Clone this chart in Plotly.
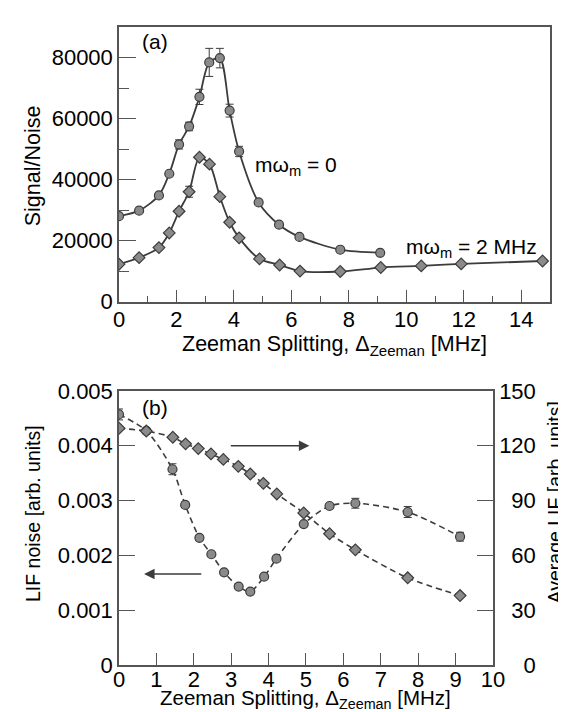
import plotly.graph_objects as go

# ---------------- data: panel (a) ----------------
a_x_m0 = [0.0, 0.70, 1.39, 1.75, 2.09, 2.44, 2.80, 3.14, 3.51, 3.85, 4.18, 4.86, 5.57, 6.28, 7.70, 9.09]
a_y_m0 = [28000, 29800, 34800, 41900, 51500, 57400, 67100, 78400, 79800, 62600, 49200, 32500, 25200, 21200, 17000, 16000]
a_err_m0 = [0, 0, 0, 500, 1500, 1400, 2500, 4600, 3200, 2100, 1700, 0, 0, 0, 0, 0]

a_x_m2 = [0.0, 0.70, 1.39, 1.75, 2.09, 2.44, 2.80, 3.15, 3.51, 3.85, 4.18, 4.89, 5.59, 6.30, 7.70, 9.11, 10.52, 11.91, 14.74]
a_y_m2 = [12260, 14400, 17700, 22500, 29600, 36000, 47300, 45050, 34400, 26000, 20900, 14000, 12000, 10000, 9870, 11160, 11700, 12350, 13300]
a_err_m2 = [0, 0, 0, 0, 800, 1800, 600, 0, 0, 0, 0, 0, 0, 0, 0, 0, 0, 0, 0]

# ---------------- data: panel (b) ----------------
b_x_noise = [0.0, 0.73, 1.43, 1.77, 2.15, 2.47, 2.81, 3.20, 3.51, 3.88, 4.21, 4.94, 5.63, 6.32, 7.72, 9.12]
b_y_noise = [0.00457, 0.00427, 0.00357, 0.00292, 0.00232, 0.00202, 0.00169, 0.00143, 0.00134,
             0.00161, 0.00194, 0.00257, 0.00290, 0.00295, 0.00279, 0.00234]
b_err_noise = [0.0001, 0.00005, 0.0001, 0.00005, 0.00004, 0.00004, 0.00003, 0.00003, 0.00004,
               0.00004, 0.00004, 0.00004, 0.00004, 0.00009, 0.0001, 0.00008]

b_x_lif = [0.0, 0.73, 1.44, 1.78, 2.12, 2.46, 2.79, 3.19, 3.51, 3.86, 4.22, 4.94, 5.63, 6.32, 7.72, 9.12]
b_y_lif = [129.5, 128.0, 124.6, 121.0, 118.4, 115.5, 112.5, 108.7, 104.5, 99.4, 93.6, 83.2, 71.8, 63.0, 47.7, 38.0]

# right-axis tick labels (right-aligned with figure spaces, as in the original)
lif_tickvals = [0, 30, 60, 90, 120, 150]
lif_ticktext = ["\u2007\u20070", "\u200730", "\u200760", "\u200790", "120", "150"]

x_title = "Zeeman Splitting, Δ<sub>Zeeman</sub> [MHz]"
y_title_a = "Signal/Noise"
y_title_b_left = "LIF noise [arb. units]"
y_title_b_right = "Average LIF [arb. units]"

FONT = "Liberation Sans, Arial, Helvetica, sans-serif"
LINE = "#3c3c3c"
FILL = "#8a8a8a"
AX = "#555555"

fig = go.Figure()

marker_c = dict(symbol="circle", size=9, color=FILL, line=dict(color=LINE, width=1.2))
marker_d = dict(symbol="diamond", size=9, color=FILL, line=dict(color=LINE, width=1.2))
err = lambda arr: dict(type="data", array=arr, visible=True, color=LINE, thickness=1, width=4)

fig.add_trace(go.Scatter(x=a_x_m0, y=a_y_m0, mode="lines+markers", error_y=err(a_err_m0),
                         line=dict(color=LINE, width=1.8, shape="spline", smoothing=0.8),
                         marker=marker_c, xaxis="x", yaxis="y", showlegend=False))
fig.add_trace(go.Scatter(x=a_x_m2, y=a_y_m2, mode="lines+markers", error_y=err(a_err_m2),
                         line=dict(color=LINE, width=1.8, shape="spline", smoothing=0.8),
                         marker=marker_d, xaxis="x", yaxis="y", showlegend=False))

fig.add_trace(go.Scatter(x=b_x_noise, y=b_y_noise, mode="lines+markers", error_y=err(b_err_noise),
                         line=dict(color=LINE, width=1.6, dash="6px,4px", shape="spline", smoothing=0.8),
                         marker=marker_c, xaxis="x2", yaxis="y2", showlegend=False))
fig.add_trace(go.Scatter(x=b_x_lif, y=b_y_lif, mode="lines+markers",
                         line=dict(color=LINE, width=1.6, dash="6px,4px", shape="spline", smoothing=0.8),
                         marker=marker_d, xaxis="x2", yaxis="y3", showlegend=False))

tickfont = dict(family=FONT, size=22, color="black")

common = dict(showgrid=False, zeroline=False, showline=True, linecolor=AX, linewidth=1.5,
              ticks="inside", tickcolor=AX, tickwidth=1, tickfont=tickfont, mirror=True)

fig.update_layout(
    width=566, height=712,
    margin=dict(l=111, r=24, t=7, b=54.5),
    paper_bgcolor="white", plot_bgcolor="white",
    font=dict(family=FONT, color="black"),
    xaxis=dict(domain=[0, 1], anchor="y", range=[0, 15], dtick=2, ticklen=12, ticklabelstandoff=-3,
               minor=dict(dtick=1, ticklen=6, ticks="inside", tickcolor=AX), **common),
    yaxis=dict(domain=[0.5696, 1], anchor="x", range=[0, 90000], dtick=20000, ticklen=17,
               tickformat="d",
               minor=dict(dtick=10000, ticklen=10, ticks="inside", tickcolor=AX), **common),
    xaxis2=dict(domain=[0, 0.8677], anchor="y2", range=[0, 10], dtick=1, ticklen=12,
                ticklabelstandoff=-6, **common),
    yaxis2=dict(domain=[0, 0.4297], anchor="x2", range=[0, 0.005], dtick=0.001, ticklen=16, **common),
    yaxis3=dict(overlaying="y2", anchor="x2", side="right", range=[0, 150], ticklen=16,
                tickmode="array", tickvals=lif_tickvals, ticktext=lif_ticktext,
                showgrid=False, zeroline=False, showline=True, linecolor=AX, linewidth=1.5,
                ticks="inside", tickcolor=AX, tickwidth=1, tickfont=tickfont),
)

# axis titles (placed as paper annotations for precise positioning)
fig.add_annotation(x=0.5, y=0.525, xref="paper", yref="paper", text=x_title, showarrow=False,
                   xanchor="center", yanchor="top", font=dict(family=FONT, size=21.5, color="black"))
fig.add_annotation(x=0.4327, y=-0.0775, xref="paper", yref="paper", text=x_title, showarrow=False,
                   xanchor="center", yanchor="bottom", font=dict(family=FONT, size=20.5, color="black"))
fig.add_annotation(x=-0.1995, y=0.7817, xref="paper", yref="paper", text=y_title_a, showarrow=False,
                   textangle=-90, xanchor="center", yanchor="middle",
                   font=dict(family=FONT, size=21.5, color="black"))
fig.add_annotation(x=-0.1995, y=0.2367, xref="paper", yref="paper", text=y_title_b_left, showarrow=False,
                   textangle=-90, xanchor="center", yanchor="middle",
                   font=dict(family=FONT, size=19.5, color="black"))
fig.add_annotation(x=1.011, y=0.2544, xref="paper", yref="paper", text=y_title_b_right, showarrow=False,
                   textangle=-90, xanchor="center", yanchor="middle",
                   font=dict(family=FONT, size=19.5, color="black"))

ann_font = dict(family=FONT, size=21, color="black")
fig.add_annotation(x=0.72, y=85300, xref="x", yref="y", text="(a)", showarrow=False,
                   xanchor="left", yanchor="middle", font=ann_font)
fig.add_annotation(x=4.67, y=44300, xref="x", yref="y", text="mω<sub>m</sub> = 0", showarrow=False,
                   xanchor="left", yanchor="middle", font=ann_font)
fig.add_annotation(x=9.93, y=17600, xref="x", yref="y", text="mω<sub>m</sub> = 2 MHz", showarrow=False,
                   xanchor="left", yanchor="middle", font=ann_font)
fig.add_annotation(x=0.57, y=0.0047, xref="x2", yref="y2", text="(b)", showarrow=False,
                   xanchor="left", yanchor="middle", font=ann_font)

# arrows
fig.add_annotation(x=5.09, y=0.004, ax=2.95, ay=0.004, xref="x2", yref="y2", axref="x2", ayref="y2",
                   text="", showarrow=True, arrowhead=2, arrowsize=1.4, arrowwidth=1.5, arrowcolor=LINE)
fig.add_annotation(x=0.67, y=0.00166, ax=2.24, ay=0.00166, xref="x2", yref="y2", axref="x2", ayref="y2",
                   text="", showarrow=True, arrowhead=2, arrowsize=1.4, arrowwidth=1.5, arrowcolor=LINE)

fig.write_html("out.html")
